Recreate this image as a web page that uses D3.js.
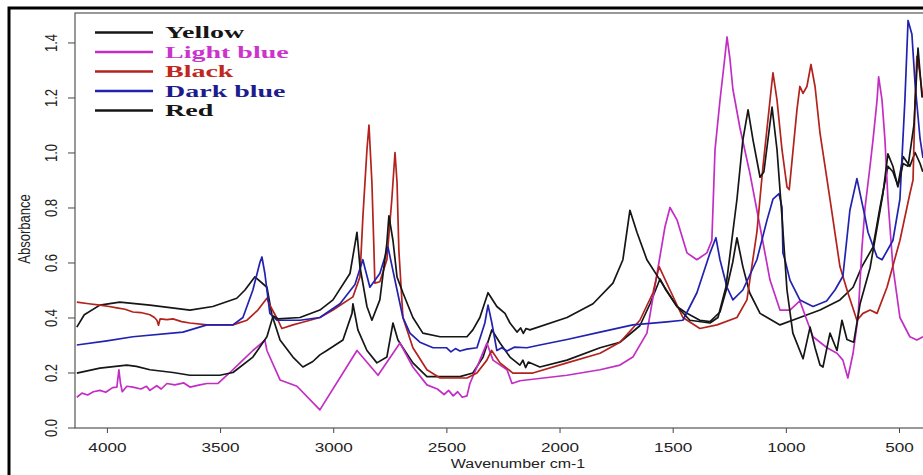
<!DOCTYPE html>
<html>
<head>
<meta charset="utf-8">
<script src="https://cdn.jsdelivr.net/npm/d3@7/dist/d3.min.js"></script>
<style>
    body { margin: 0; background: #fff; }
    svg { display: block; }
</style>
</head>
<body>
<svg id="chart" width="923" height="475"></svg>
<script>
// --- data: [wavenumber cm-1, absorbance] ---

const yellowData = [
    [4133,0.365],[4100,0.41],[4031,0.445],[3943,0.456],[3810,0.445],[3633,0.427],[3532,0.44],[3426,0.47],
    [3390,0.50],[3346,0.548],[3293,0.51],[3271,0.41],[3235,0.318],[3178,0.256],[3134,0.22],[3090,0.24],
    [3059,0.264],[3028,0.28],[2957,0.318],[2917,0.415],[2913,0.45],[2891,0.355],[2851,0.28],[2807,0.235],
    [2763,0.256],[2736,0.38],[2714,0.318],[2692,0.29],[2648,0.235],[2586,0.185],[2440,0.185],[2383,0.198],
    [2338,0.256],[2299,0.355],[2263,0.307],[2219,0.256],[2175,0.227],[2162,0.245],[2150,0.218],[2138,0.238],
    [2087,0.22],[1967,0.245],[1821,0.29],[1733,0.31],[1645,0.37],[1600,0.45],[1556,0.54],[1530,0.50],
    [1481,0.44],[1437,0.415],[1380,0.39],[1335,0.385],[1291,0.42],[1260,0.51],[1235,0.60],[1216,0.69],
    [1190,0.585],[1160,0.49],[1114,0.415],[1026,0.373],[938,0.40],[849,0.427],[761,0.464],[703,0.51],
    [664,0.585],[615,0.656],[584,0.80],[549,0.95],[527,0.93],[505,0.88],[482,0.985],[452,0.95],
    [429,1.0],[407,0.96],[395,0.93]
];

const lightBlueData = [
    [4133,0.11],[4110,0.125],[4085,0.118],[4060,0.13],[4031,0.135],[4005,0.128],[3975,0.145],[3956,0.147],
    [3947,0.21],[3940,0.16],[3932,0.13],[3912,0.15],[3885,0.147],[3850,0.14],[3825,0.15],[3810,0.135],
    [3780,0.152],[3760,0.14],[3735,0.16],[3700,0.155],[3660,0.162],[3633,0.147],[3589,0.155],[3558,0.16],
    [3509,0.16],[3456,0.20],[3412,0.235],[3355,0.28],[3302,0.318],[3293,0.28],[3235,0.173],[3160,0.15],
    [3059,0.064],[2895,0.28],[2802,0.19],[2705,0.307],[2648,0.22],[2586,0.155],[2540,0.14],[2510,0.12],
    [2490,0.135],[2470,0.115],[2450,0.13],[2430,0.11],[2409,0.115],[2396,0.16],[2352,0.245],[2321,0.307],
    [2294,0.245],[2232,0.21],[2210,0.16],[2175,0.17],[1967,0.19],[1821,0.21],[1733,0.227],[1676,0.256],
    [1614,0.343],[1565,0.58],[1534,0.73],[1512,0.80],[1481,0.755],[1437,0.635],[1393,0.61],[1349,0.635],
    [1327,0.68],[1313,1.01],[1291,1.19],[1269,1.35],[1260,1.42],[1247,1.34],[1234,1.23],[1203,1.09],
    [1159,0.925],[1114,0.73],[1070,0.536],[1026,0.427],[982,0.427],[938,0.46],[907,0.39],[880,0.33],
    [818,0.29],[774,0.27],[748,0.245],[726,0.18],[703,0.27],[681,0.40],[664,0.65],[650,0.80],
    [628,0.95],[615,1.045],[597,1.19],[590,1.275],[575,1.19],[562,1.045],[549,0.83],[527,0.585],
    [496,0.40],[452,0.33],[421,0.318],[394,0.33]
];

const blackData = [
    [4133,0.456],[4080,0.45],[4031,0.445],[3990,0.44],[3956,0.435],[3920,0.43],[3885,0.42],[3850,0.418],
    [3810,0.41],[3790,0.40],[3779,0.39],[3772,0.372],[3765,0.395],[3735,0.392],[3708,0.395],[3670,0.385],
    [3633,0.38],[3558,0.373],[3443,0.373],[3381,0.39],[3333,0.427],[3293,0.47],[3280,0.445],[3244,0.39],
    [3227,0.36],[3178,0.373],[3147,0.38],[3059,0.40],[3001,0.427],[2913,0.475],[2882,0.547],[2869,0.765],
    [2851,1.01],[2842,1.10],[2829,0.89],[2820,0.645],[2816,0.525],[2794,0.53],[2763,0.61],[2741,0.83],
    [2727,1.0],[2718,0.89],[2710,0.645],[2692,0.40],[2648,0.29],[2586,0.21],[2528,0.18],[2409,0.18],
    [2365,0.198],[2321,0.245],[2300,0.28],[2263,0.235],[2206,0.198],[2118,0.198],[1967,0.235],[1821,0.27],
    [1733,0.31],[1645,0.39],[1587,0.49],[1560,0.585],[1512,0.50],[1455,0.40],[1380,0.36],[1304,0.373],
    [1216,0.40],[1172,0.464],[1128,0.71],[1101,0.95],[1070,1.19],[1057,1.29],[1039,1.19],[1017,1.01],
    [995,0.875],[985,0.865],[951,1.155],[938,1.24],[924,1.215],[907,1.24],[889,1.32],[871,1.24],
    [849,1.07],[805,0.83],[761,0.585],[726,0.49],[686,0.39],[659,0.415],[628,0.427],[597,0.415],
    [553,0.51],[496,0.68],[452,0.85],[438,0.90],[429,1.19],[421,1.35],[410,1.3],[395,1.2]
];

const darkBlueData = [
    [4133,0.30],[4000,0.315],[3885,0.33],[3664,0.347],[3558,0.373],[3443,0.373],[3399,0.40],[3355,0.50],
    [3324,0.60],[3315,0.62],[3302,0.56],[3280,0.415],[3249,0.39],[3147,0.39],[3059,0.40],[2970,0.45],
    [2904,0.52],[2869,0.61],[2860,0.58],[2838,0.51],[2794,0.56],[2758,0.656],[2718,0.50],[2692,0.40],
    [2661,0.343],[2617,0.31],[2559,0.29],[2500,0.29],[2480,0.275],[2460,0.287],[2440,0.278],[2410,0.285],
    [2365,0.29],[2330,0.38],[2316,0.445],[2299,0.38],[2277,0.28],[2255,0.29],[2232,0.278],[2200,0.292],
    [2144,0.29],[2087,0.30],[1967,0.32],[1821,0.347],[1676,0.373],[1525,0.384],[1455,0.39],[1393,0.49],
    [1335,0.635],[1309,0.69],[1291,0.61],[1260,0.51],[1234,0.464],[1190,0.50],[1128,0.61],[1083,0.755],
    [1057,0.83],[1030,0.85],[1017,0.80],[1013,0.635],[1004,0.61],[982,0.536],[938,0.464],[880,0.44],
    [820,0.46],[783,0.50],[748,0.55],[717,0.79],[686,0.905],[650,0.765],[637,0.71],[597,0.62],
    [575,0.61],[527,0.68],[496,0.83],[474,1.19],[460,1.48],[443,1.43],[429,1.25],[407,1.05],[394,0.98]
];

const redData = [
    [4133,0.198],[4031,0.216],[3912,0.227],[3870,0.222],[3810,0.21],[3708,0.20],[3633,0.19],[3501,0.19],
    [3443,0.20],[3355,0.256],[3293,0.33],[3266,0.405],[3244,0.395],[3147,0.40],[3059,0.427],[3001,0.464],
    [2926,0.56],[2895,0.71],[2882,0.585],[2851,0.44],[2829,0.39],[2794,0.464],[2763,0.67],[2754,0.77],
    [2736,0.68],[2718,0.547],[2692,0.49],[2648,0.40],[2604,0.343],[2528,0.33],[2409,0.33],[2383,0.355],
    [2352,0.40],[2316,0.49],[2277,0.44],[2241,0.415],[2219,0.38],[2188,0.347],[2172,0.362],[2160,0.342],
    [2148,0.36],[2131,0.355],[1967,0.40],[1852,0.45],[1764,0.525],[1720,0.61],[1689,0.79],[1658,0.71],
    [1614,0.61],[1556,0.536],[1481,0.44],[1424,0.39],[1335,0.38],[1300,0.40],[1265,0.51],[1216,0.83],
    [1190,1.045],[1167,1.155],[1145,1.045],[1114,0.91],[1097,0.93],[1061,1.165],[1039,1.01],[1017,0.765],
    [995,0.50],[969,0.343],[924,0.25],[893,0.365],[871,0.29],[849,0.227],[836,0.22],[805,0.343],
    [774,0.28],[752,0.39],[730,0.32],[700,0.31],[672,0.45],[628,0.58],[590,0.76],[571,0.85],
    [549,0.995],[527,0.95],[505,0.875],[482,0.96],[460,0.95],[434,1.10],[416,1.38],[398,1.2]
];

const xTicks = [4000, 3500, 3000, 2500, 2000, 1500, 1000, 500];
const yTicks = [0.0, 0.2, 0.4, 0.6, 0.8, 1.0, 1.2, 1.4];
const legendLabels = ['Yellow', 'Light blue', 'Black', 'Dark blue', 'Red'];

// line / legend colours, same order as the legend
const lineColors = ['#161616', '#c22ec4', '#b3221c', '#2222b0', '#161616'];
const textColors = ['#161616', '#cc33cc', '#c0281e', '#1c1c8e', '#161616'];

drawChart();

function drawChart() {
    const svg = d3.select('#chart');
    const plot = { left: 75, right: 954, top: 13, bottom: 428 };

    const x = d3.scaleLinear().domain([4141, 257]).range([plot.left, plot.right]);
    const y = d3.scaleLinear().domain([0, 1.509]).range([427.5, 12.5]);

    svg.append('rect').attr('width', 923).attr('height', 475).attr('fill', '#fff');

    // outer frame (cut by the picture on the right)
    svg.append('rect')
        .attr('x', 9).attr('y', 8).attr('width', 1000).attr('height', 470)
        .attr('fill', 'none').attr('stroke', '#000').attr('stroke-width', 3);

    svg.append('clipPath').attr('id', 'plot-clip')
        .append('rect')
        .attr('x', plot.left).attr('y', plot.top)
        .attr('width', plot.right - plot.left).attr('height', plot.bottom - plot.top);

    // --- axes ---
    const xAxis = d3.axisBottom(x).tickValues(xTicks).tickSize(5).tickFormat(d3.format('d'));
    const gx = svg.append('g').attr('transform', `translate(0,${plot.bottom})`).call(xAxis);
    gx.select('.domain').remove();
    gx.selectAll('line').attr('stroke', '#444');
    gx.selectAll('text')
        .attr('y', 24).attr('dy', null)
        .attr('transform', 'scale(1.32,1)')
        .attr('fill', '#222')
        .style('font', '13px "Liberation Sans", Arial, sans-serif');

    const yAxis = d3.axisLeft(y).tickValues(yTicks).tickSize(7).tickFormat(d3.format('.1f'));
    const gy = svg.append('g').attr('transform', `translate(${plot.left},0)`).call(yAxis);
    gy.select('.domain').remove();
    gy.selectAll('line').attr('stroke', '#444');
    gy.selectAll('text')
        .attr('x', null).attr('dy', null)
        .attr('text-anchor', 'middle')
        .attr('transform', 'translate(-18,0) rotate(-90) scale(1,1.3)')
        .attr('fill', '#222')
        .style('font', '13px "Liberation Sans", Arial, sans-serif');

    // plot box
    svg.append('rect')
        .attr('x', plot.left).attr('y', plot.top)
        .attr('width', plot.right - plot.left).attr('height', plot.bottom - plot.top)
        .attr('fill', 'none').attr('stroke', '#555').attr('stroke-width', 1.2);

    svg.append('text')
        .attr('transform', 'translate(518,468) scale(1.28,1)')
        .attr('text-anchor', 'middle')
        .attr('fill', '#222')
        .style('font', '12.5px "Liberation Sans", Arial, sans-serif')
        .text('Wavenumber cm-1');

    svg.append('text')
        .attr('transform', 'translate(30,229) rotate(-90) scale(1,1.25)')
        .attr('text-anchor', 'middle')
        .attr('fill', '#222')
        .style('font', '13px "Liberation Sans", Arial, sans-serif')
        .text('Absorbance');

    // --- spectra ---
    const series = [yellowData, lightBlueData, blackData, darkBlueData, redData];
    const line = d3.line().x(d => x(d[0])).y(d => y(d[1]));

    const lines = svg.append('g').attr('clip-path', 'url(#plot-clip)');
    series.forEach((data, i) => {
        lines.append('path')
            .datum(data)
            .attr('d', line)
            .attr('fill', 'none')
            .attr('stroke', lineColors[i])
            .attr('stroke-width', 1.7)
            .attr('stroke-linejoin', 'round');
    });

    // --- legend ---
    const legend = svg.append('g');
    legendLabels.forEach((label, i) => {
        const ly = 32.5 + i * 19.5;
        legend.append('line')
            .attr('x1', 95).attr('x2', 153).attr('y1', ly).attr('y2', ly)
            .attr('stroke', lineColors[i]).attr('stroke-width', 2.6);
        legend.append('text')
            .attr('transform', `translate(165,${ly + 5.5}) scale(1.75,1)`)
            .attr('fill', textColors[i])
            .style('font', 'bold 16px "Liberation Serif", "Times New Roman", serif')
            .text(label);
    });
}
</script>
</body>
</html>
